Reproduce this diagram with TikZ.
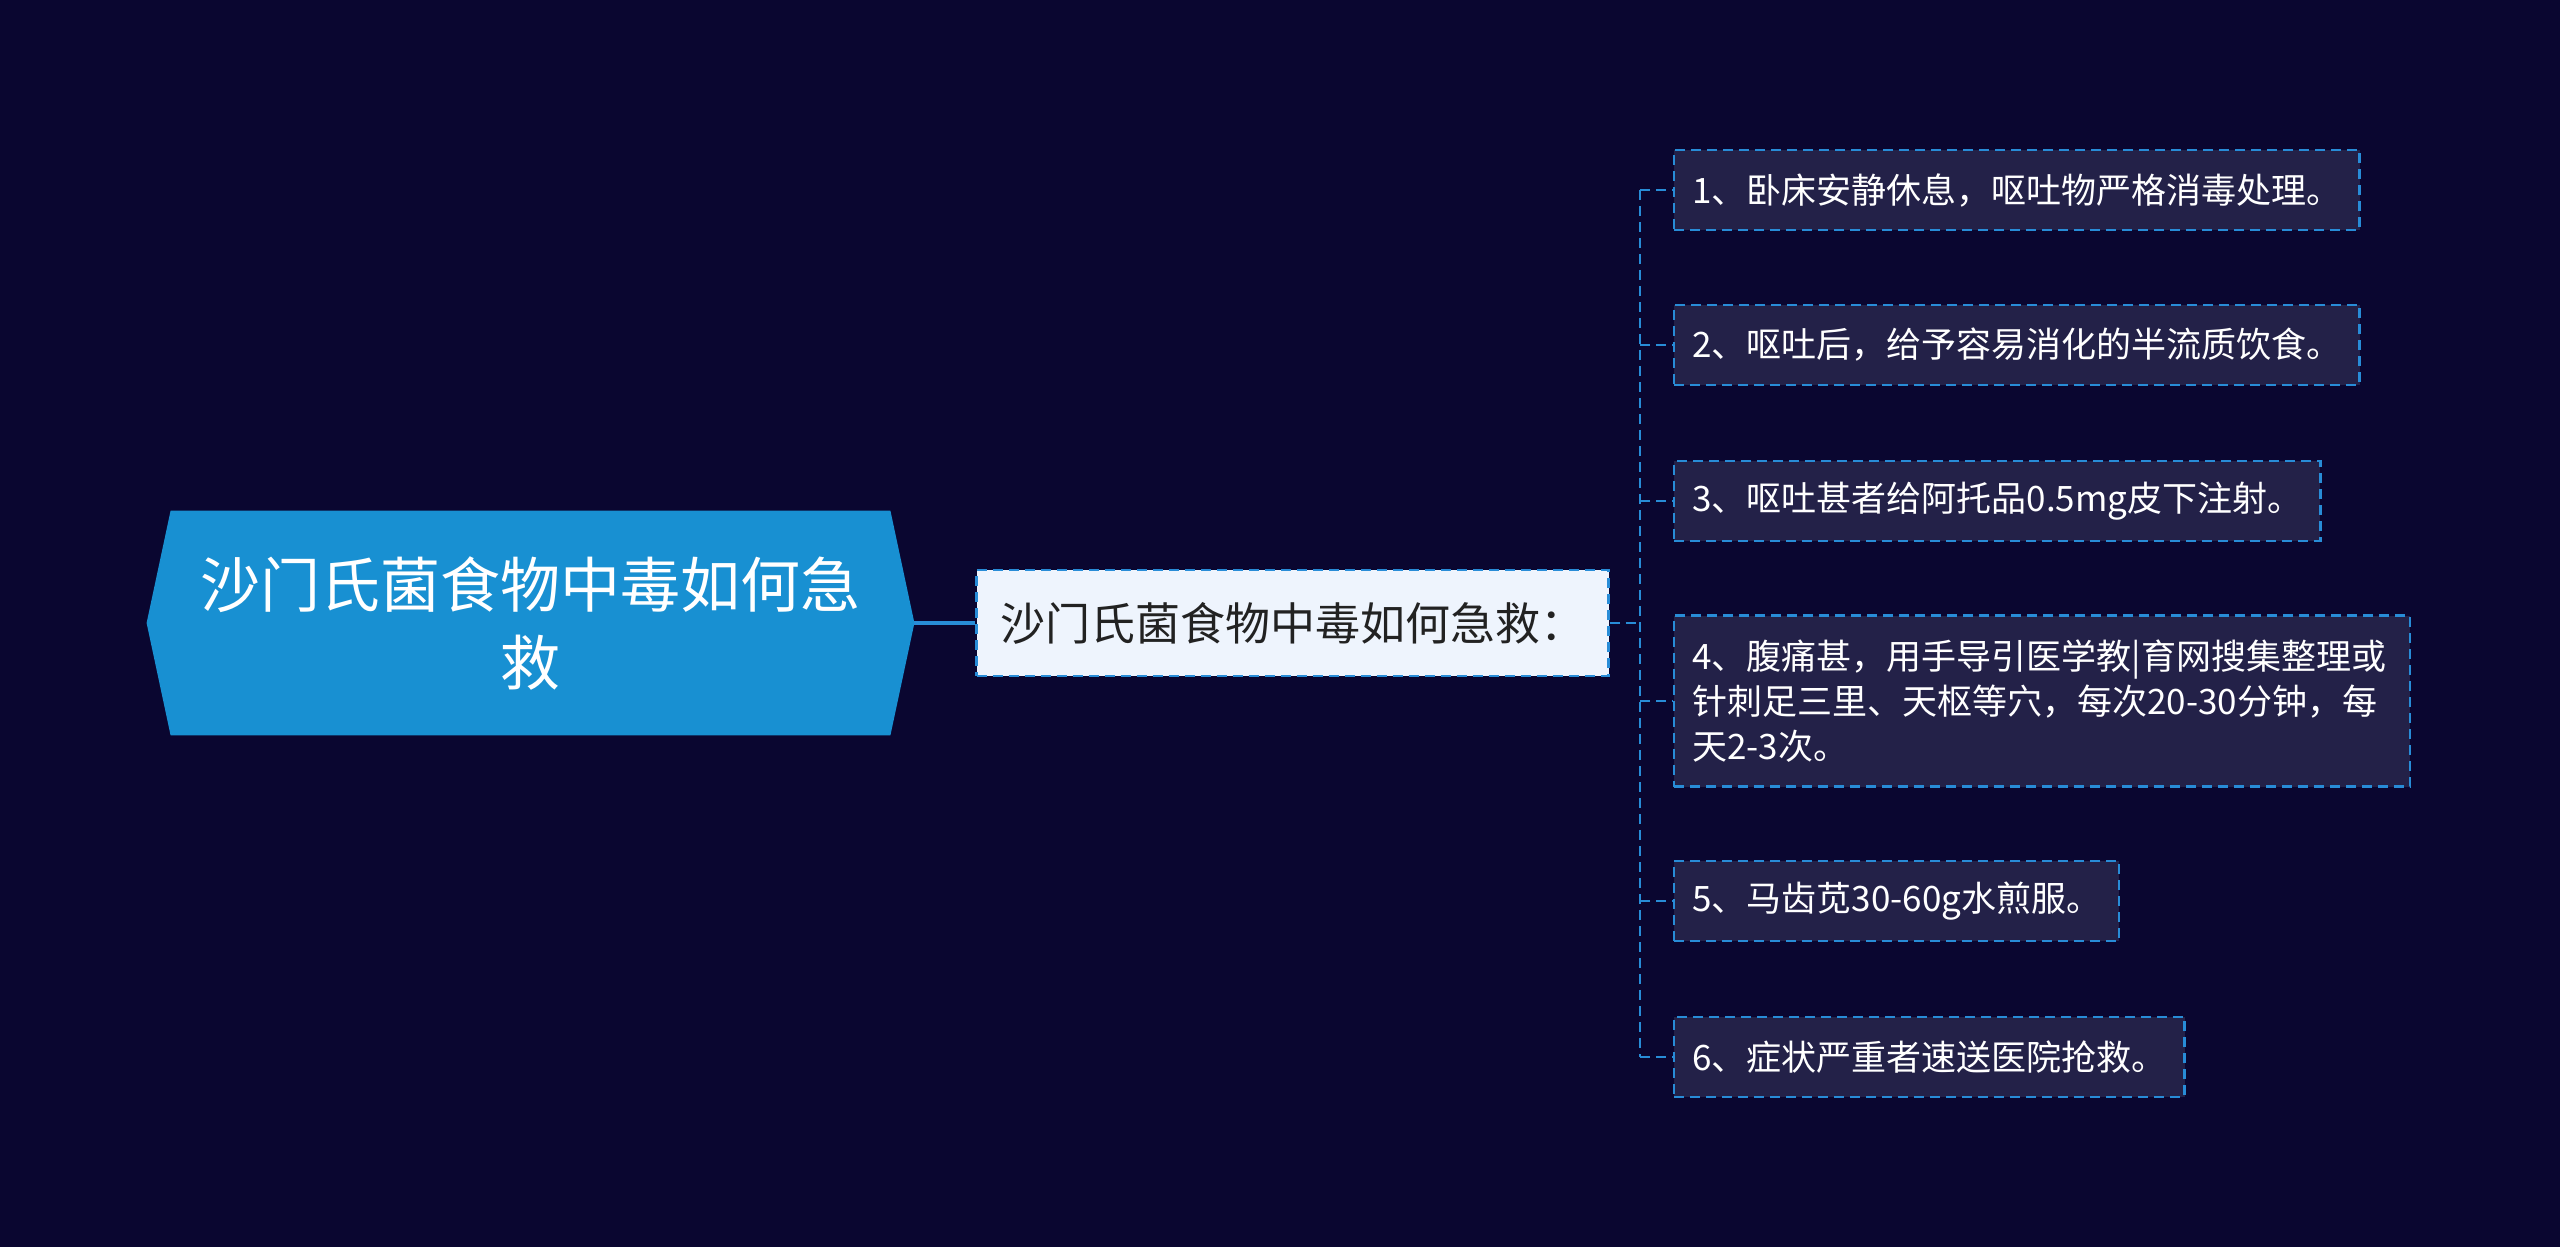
\documentclass[tikz,border=0pt]{standalone}
\usepackage{fontspec}
\setmainfont{Noto Sans CJK SC}
\usetikzlibrary{backgrounds}
\definecolor{bgnavy}{RGB}{10,6,48}
\definecolor{rootblue}{RGB}{24,144,210}
\definecolor{linkblue}{RGB}{40,140,215}
\definecolor{midfill}{RGB}{238,244,253}
\definecolor{midtext}{RGB}{34,34,34}
\definecolor{leaffill}{RGB}{35,33,72}

\begin{document}
\begin{tikzpicture}[x=0.5pt, y=-0.5pt,
    rootbox/.style={minimum width=383.5pt, minimum height=112pt, align=center, text=white, font=\fontsize{30}{39}\selectfont},
    midbox/.style={draw=linkblue, dash pattern=on 5pt off 3pt, line width=1.2pt, fill=midfill, text=midtext, minimum width=316pt, minimum height=53pt, font=\fontsize{22.5}{26}\selectfont},
    leaf/.style={draw=linkblue, dash pattern=on 5pt off 3pt, line width=1.2pt, fill=leaffill, text=white, anchor=west, inner xsep=9pt, minimum height=40pt, align=left, font=\fontsize{17.5}{22.5}\selectfont},
    leafwide/.style={text width=350pt, minimum height=85.5pt},
    link/.style={draw=linkblue, line width=1.2pt, dash pattern=on 5pt off 3pt}]
    \useasboundingbox (0,0) rectangle (2560,1247);
    \node[rootbox] (root) at (530.5,623) {沙门氏菌食物中毒如何急\\救};
    \node[midbox] (mid) at (1292.5,623) {沙门氏菌食物中毒如何急救：};
    \foreach \i/\y/\opt/\txt in {
      1/190/{}/{1、卧床安静休息，呕吐物严格消毒处理。},
      2/345/{}/{2、呕吐后，给予容易消化的半流质饮食。},
      3/501/{}/{3、呕吐甚者给阿托品0.5mg皮下注射。},
      4/701/{leafwide}/{4、腹痛甚，用手导引医学教|育网搜集整理或\\针刺足三里、天枢等穴，每次20-30分钟，每\\天2-3次。},
      5/901/{}/{5、马齿苋30-60g水煎服。},
      6/1057/{}/{6、症状严重者速送医院抢救。}}
      \node[leaf, \opt] (l\i) at (1673,\y) {\txt};
    \coordinate (bus) at (1640,623);
    \begin{scope}[on background layer]
      \fill[bgnavy] (0,0) rectangle (2560,1247);
      \fill[rootblue] (root.west) -- ([xshift=12pt]root.north west) -- ([xshift=-12pt]root.north east)
        -- (root.east) -- ([xshift=-12pt]root.south east) -- ([xshift=12pt]root.south west) -- cycle;
    \end{scope}
    \draw[linkblue, line width=2pt] (root.east) -- (mid.west);
    \draw[link] (mid.east) -- (bus);
    \draw[link] (bus |- l1.west) -- (bus |- l6.west);
    \foreach \i in {1,...,6}
      \draw[link] (bus |- l\i.west) -- (l\i.west);
\end{tikzpicture}
\end{document}
